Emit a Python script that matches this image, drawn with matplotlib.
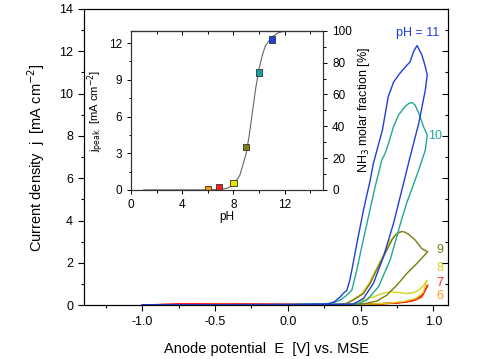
import matplotlib
matplotlib.use("Agg")
import matplotlib.pyplot as plt
from matplotlib.ticker import MultipleLocator

plt.rcParams['font.family'] = ['Liberation Sans', 'DejaVu Sans']

# cyclic voltammograms (E in V vs MSE, j in mA cm-2)
E11 = [-1.0, -0.5, 0.0, 0.3, 0.45, 0.52, 0.588, 0.657, 0.726, 0.772, 0.84, 0.90, 0.945, 0.958,
       0.94, 0.92, 0.888, 0.865, 0.84, 0.80, 0.77, 0.727, 0.69, 0.65, 0.588, 0.566, 0.52, 0.474,
       0.44, 0.425, 0.405, 0.38, 0.36, 0.32, 0.27, 0.0, -1.0]
j11 = [0.0, 0.02, 0.03, 0.03, 0.05, 0.32, 1.03, 2.28, 3.86, 5.12, 7.0, 8.6, 10.17, 10.9,
       11.4, 11.85, 12.27, 12.0, 11.5, 11.2, 10.96, 10.55, 9.85, 8.28, 6.7, 5.9, 4.5, 2.9,
       1.66, 1.15, 0.7, 0.55, 0.39, 0.16, 0.05, 0.02, 0.0]

E10 = [-1.0, -0.5, 0.0, 0.3, 0.474, 0.543, 0.623, 0.703, 0.784, 0.818, 0.853, 0.90, 0.945, 0.958,
       0.933, 0.90, 0.875, 0.857, 0.835, 0.807, 0.761, 0.726, 0.692, 0.669, 0.646, 0.60, 0.554,
       0.508, 0.474, 0.44, 0.405, 0.36, 0.30, 0.0, -1.0]
j10 = [0.0, 0.02, 0.03, 0.03, 0.05, 0.24, 0.87, 2.13, 4.1, 4.85, 5.5, 6.4, 7.33, 8.04,
       8.43, 9.07, 9.45, 9.57, 9.55, 9.4, 8.99, 8.43, 7.65, 7.18, 6.86, 5.6, 4.18,
       2.76, 1.66, 0.71, 0.47, 0.24, 0.08, 0.02, 0.0]

E9 = [-1.0, -0.5, 0.0, 0.40, 0.52, 0.61, 0.68, 0.75, 0.818, 0.887, 0.961, 0.92, 0.876, 0.83,
      0.805, 0.784, 0.76, 0.735, 0.715, 0.657, 0.61, 0.566, 0.52, 0.45, 0.40, 0.30, 0.0, -1.0]
j9 = [0.0, 0.02, 0.02, 0.02, 0.06, 0.19, 0.47, 0.95, 1.5, 1.97, 2.52, 2.68, 3.07, 3.35,
      3.45, 3.48, 3.43, 3.28, 3.07, 2.28, 1.66, 1.03, 0.55, 0.24, 0.08, 0.02, 0.02, 0.0]

E8 = [-1.0, -0.5, 0.0, 0.43, 0.52, 0.588, 0.65, 0.703, 0.76, 0.818, 0.86, 0.90, 0.93, 0.958,
      0.93, 0.88, 0.80, 0.70, 0.60, 0.45, 0.0, -1.0]
j8 = [0.0, 0.03, 0.02, 0.03, 0.24, 0.39, 0.55, 0.63, 0.6, 0.55, 0.58, 0.71, 0.9, 1.18,
      0.6, 0.32, 0.18, 0.1, 0.06, 0.03, 0.02, 0.0]
# second yellow trace running along the pH 9 anodic branch
E8b = [0.30, 0.40, 0.44, 0.51, 0.56, 0.605, 0.65, 0.705, 0.745, 0.775]
j8b = [0.0, 0.05, 0.22, 0.55, 1.05, 1.66, 2.28, 3.05, 3.35, 3.45]

E7 = [-1.0, -0.75, -0.5, 0.0, 0.45, 0.6, 0.75, 0.85, 0.92, 0.962, 0.93, 0.88, 0.80, 0.60, 0.3, -0.5, -1.0]
j7 = [0.0, 0.07, 0.06, 0.04, 0.03, 0.06, 0.11, 0.2, 0.42, 0.95, 0.5, 0.26, 0.13, 0.05, 0.03, 0.04, 0.0]

E6 = [-1.0, -0.75, -0.5, 0.0, 0.45, 0.65, 0.8, 0.88, 0.92, 0.948, 0.92, 0.85, 0.70, 0.45, 0.0, -1.0]
j6 = [0.0, 0.05, 0.05, 0.03, 0.02, 0.06, 0.14, 0.25, 0.45, 0.79, 0.36, 0.18, 0.08, 0.02, 0.02, 0.0]

# inset: peak current vs pH
pH_pts = [6.0, 6.9, 8.0, 9.0, 10.0, 11.0]
jpeak = [0.1, 0.2, 0.55, 3.5, 9.6, 12.3]
pt_colors = ['#ff9900', '#ff1a1a', '#e6e600', '#7d7d10', '#17a3a3', '#1f3fe0']
# NH3 fraction curve (drawn on the j_peak scale)
pH_curve = [1.0, 6.0, 7.0, 7.5, 8.0, 8.5, 9.0, 9.25, 9.5, 9.75, 10.0, 10.25, 10.5, 11.0,
            11.5, 12.0, 12.5, 15.0]
fit_curve = [0.0, 0.0, 0.04, 0.14, 0.4, 1.2, 3.0, 4.6, 6.5, 8.4, 9.9, 11.0, 11.8, 12.5,
             12.85, 12.97, 13.0, 13.0]

fig = plt.figure(figsize=(4.78, 3.59), dpi=100)
ax = fig.add_axes([0.176, 0.150, 0.761, 0.825])

ax.plot(E6, j6, color='#ff9a1a', lw=1.0)
ax.plot(E7, j7, color='#ff2020', lw=1.0)
ax.plot(E8, j8, color='#d4d41a', lw=1.0)
ax.plot(E8b, j8b, color='#d4c81a', lw=1.0)
ax.plot(E9, j9, color='#7a7a12', lw=1.0)
ax.plot(E10, j10, color='#1fa898', lw=1.0)
ax.plot(E11, j11, color='#1f3fd8', lw=1.0)

ax.text(0.89, 12.85, 'pH = 11', color='#1f3fd8', fontsize=9, ha='center', va='center')
ax.text(0.965, 8.0, '10', color='#1fa898', fontsize=9, ha='left', va='center')
ax.text(1.02, 2.6, '9', color='#7a7a12', fontsize=9, ha='left', va='center')
ax.text(1.02, 1.75, '8', color='#d4d41a', fontsize=9, ha='left', va='center')
ax.text(1.02, 1.04, '7', color='#ff2020', fontsize=9, ha='left', va='center')
ax.text(1.02, 0.42, '6', color='#ff9a1a', fontsize=9, ha='left', va='center')

ax.set_xlim(-1.4, 1.1)
ax.set_ylim(0, 14)
ax.xaxis.set_major_locator(MultipleLocator(0.5))
ax.xaxis.set_minor_locator(MultipleLocator(0.25))
ax.yaxis.set_major_locator(MultipleLocator(2))
ax.yaxis.set_minor_locator(MultipleLocator(1))
ax.xaxis.set_major_formatter(plt.FormatStrFormatter('%.1f'))
ax.tick_params(which='both', direction='out', labelsize=9, top=False, right=False)
ax.tick_params(which='major', length=4.5, width=0.8)
ax.tick_params(which='minor', length=2.5, width=0.8)
ax.set_xlabel('Anode potential  E  [V] vs. MSE', fontsize=10.5, labelpad=10)
ax.set_ylabel('Current density  j  [mA cm$^{-2}$]', fontsize=10.5, labelpad=9)
# mirrored ticks on right side (pointing inward)
axr = ax.twinx()
axr.set_ylim(0, 14)
axr.yaxis.set_major_locator(MultipleLocator(2))
axr.yaxis.set_minor_locator(MultipleLocator(1))
axr.tick_params(which='both', direction='in', labelright=False)
axr.tick_params(which='major', length=4.5, width=0.8)
axr.tick_params(which='minor', length=2.5, width=0.8)

# inset
ins = fig.add_axes([0.274, 0.471, 0.402, 0.443])
ins.plot(pH_curve, fit_curve, color='#666666', lw=0.8, zorder=1)
ins.scatter(pH_pts, jpeak, s=20, marker='s', c=pt_colors, edgecolors='#333333',
            linewidths=0.6, zorder=3)
ins.set_xlim(0, 15)
ins.set_ylim(0, 13)
ins.xaxis.set_major_locator(MultipleLocator(4))
ins.xaxis.set_minor_locator(MultipleLocator(2))
ins.yaxis.set_major_locator(MultipleLocator(3))
ins.yaxis.set_minor_locator(MultipleLocator(1.5))
ins.tick_params(which='both', direction='out', labelsize=8.5, width=0.7)
ins.tick_params(which='major', length=3)
ins.tick_params(which='minor', length=1.8)
ins.set_xlabel('pH', fontsize=8.5, labelpad=0)
ins.set_ylabel('j$_{\\mathrm{peak}}$  [mA cm$^{-2}$]', fontsize=8, labelpad=2)
top = ins.secondary_xaxis('top')
top.xaxis.set_major_locator(MultipleLocator(4))
top.xaxis.set_minor_locator(MultipleLocator(2))
top.tick_params(which='both', direction='in', labeltop=False, width=0.7)
top.tick_params(which='major', length=3)
top.tick_params(which='minor', length=1.8)
insr = ins.twinx()
insr.set_ylim(0, 100)
insr.yaxis.set_major_locator(MultipleLocator(20))
insr.yaxis.set_minor_locator(MultipleLocator(10))
insr.tick_params(which='both', direction='out', labelsize=8.5, width=0.7)
insr.tick_params(which='major', length=3)
insr.tick_params(which='minor', length=1.8)
insr.set_ylabel('NH$_3$ molar fraction [%]', fontsize=9, labelpad=3)
for a in (ins, insr):
    for s in a.spines.values():
        s.set_linewidth(0.8)
        s.set_color('#333333')

fig.savefig('out.png', dpi=100)
